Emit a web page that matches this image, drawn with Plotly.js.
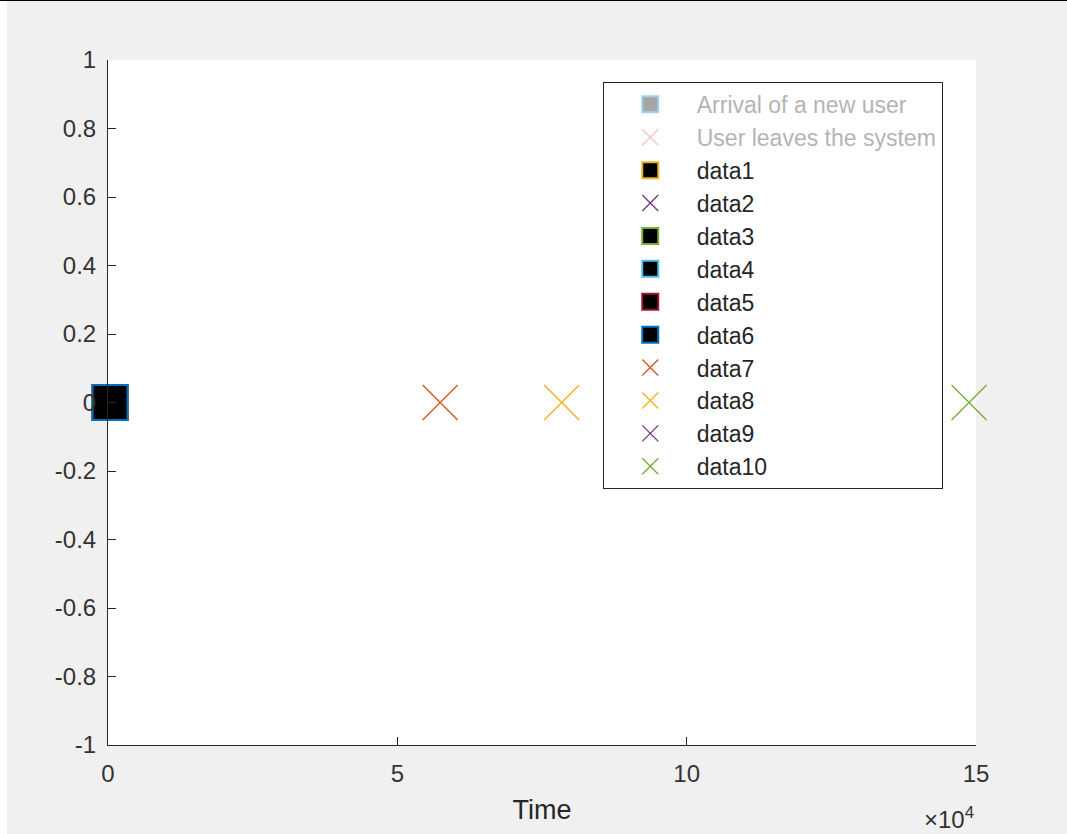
<!DOCTYPE html>
<html>
<head>
<meta charset="utf-8">
<script src="https://cdn.plot.ly/plotly-3.0.1.min.js"></script>
<style>
  html, body { margin: 0; padding: 0; background: #ffffff; }
  body { border-top: 1px solid #000000; width: 1067px; height: 833px; overflow: hidden; }
  #plot { margin-left: 7px; width: 1060px; height: 833px; }
</style>
</head>
<body>
<div id="plot"></div>
<script>
// ---- data ----
const seriesNames = ['Arrival of a new user', 'User leaves the system',
  'data1', 'data2', 'data3', 'data4', 'data5', 'data6', 'data7', 'data8', 'data9', 'data10'];
const seriesX = [null, null, -150, 95000, 350, 350, 350, 350, 57400, 78400, 120000, 148800];
const seriesY = [null, null, 0, 0, 0, 0, 0, 0, 0, 0, 0, 0];
const seriesKind = ['arrival', 'leave', 'arrival', 'leave', 'arrival', 'arrival', 'arrival', 'arrival',
  'leave', 'leave', 'leave', 'leave'];
const seriesColor = ['#9fd3f2', '#f6c5b3', '#EDB120', '#7E2F8E', '#77AC30', '#4DBEEE', '#A2142F', '#0072BD',
  '#D95319', '#EDB120', '#7E2F8E', '#77AC30'];
const seriesFaded = [true, true, false, false, false, false, false, false, false, false, false, false];
const yTickVals = [1, 0.8, 0.6, 0.4, 0.2, 0, -0.2, -0.4, -0.6, -0.8, -1];
const yTickText = ['1', '0.8', '0.6', '0.4', '0.2', '0', '-0.2', '-0.4', '-0.6', '-0.8', '-1'];
const xTickVals = [0, 50000, 100000, 150000];
const xTickText = ['0', '5', '10', '15'];

const FONT = 'Liberation Sans, Arial, Helvetica, sans-serif';

const traces = seriesNames.map((name, i) => {
  const isArrival = seriesKind[i] === 'arrival';
  const faded = seriesFaded[i];
  const txtColor = faded ? '#b4b4b4' : '#262626';
  const marker = isArrival ? {
    symbol: 'square',
    size: 35,
    color: faded ? '#a6a6a6' : '#000000',
    line: { color: seriesColor[i], width: 2 }
  } : {
    symbol: 'x-thin-open',
    size: 35,
    color: seriesColor[i],
    line: { color: seriesColor[i], width: 1.3 }
  };
  return {
    type: 'scatter',
    mode: 'markers',
    x: [seriesX[i]],
    y: [seriesY[i]],
    name: '<span style="color:' + txtColor + '">' + name + '</span>',
    marker: marker,
    hoverinfo: 'skip',
    cliponaxis: false
  };
});

const layout = {
  width: 1060,
  height: 833,
  paper_bgcolor: '#f0f0f0',
  plot_bgcolor: '#ffffff',
  margin: { l: 101, r: 91, t: 59, b: 89, pad: 0 },
  font: { family: FONT, size: 25, color: '#262626' },
  showlegend: true,
  legend: {
    x: 0.570, y: 0.968, xanchor: 'left', yanchor: 'top',
    xref: 'paper', yref: 'paper',
    bgcolor: '#ffffff',
    bordercolor: '#262626',
    borderwidth: 1,
    font: { family: FONT, size: 23, color: '#262626' },
    itemwidth: 83,
    tracegroupgap: 0
  },
  xaxis: {
    range: [0, 150000],
    tickmode: 'array',
    tickvals: xTickVals,
    ticktext: xTickText,
    ticks: 'inside',
    ticklen: 8,
    tickwidth: 1,
    tickcolor: '#262626',
    showline: true,
    linecolor: '#262626',
    linewidth: 1,
    showgrid: false,
    zeroline: false,
    mirror: false,
    tickfont: { family: FONT, size: 24, color: '#333333' },
    ticklabelstandoff: 7,
    title: { text: 'Time', font: { family: FONT, size: 27, color: '#262626' }, standoff: 14 },
    fixedrange: true
  },
  yaxis: {
    range: [-1, 1],
    tickmode: 'array',
    tickvals: yTickVals,
    ticktext: yTickText,
    ticks: 'inside',
    ticklen: 8,
    tickwidth: 1,
    tickcolor: '#262626',
    showline: true,
    linecolor: '#262626',
    linewidth: 1,
    showgrid: false,
    zeroline: false,
    mirror: false,
    tickfont: { family: FONT, size: 24, color: '#333333' },
    ticklabelstandoff: 6,
    fixedrange: true
  },
  annotations: [{
    xref: 'paper', yref: 'paper',
    x: 1.0, y: -0.107,
    xanchor: 'right', yanchor: 'middle',
    text: '×10<sup>4</sup>',
    showarrow: false,
    font: { family: FONT, size: 24, color: '#333333' }
  }]
};

Plotly.newPlot('plot', traces, layout, { displayModeBar: false, staticPlot: true });
</script>
</body>
</html>
